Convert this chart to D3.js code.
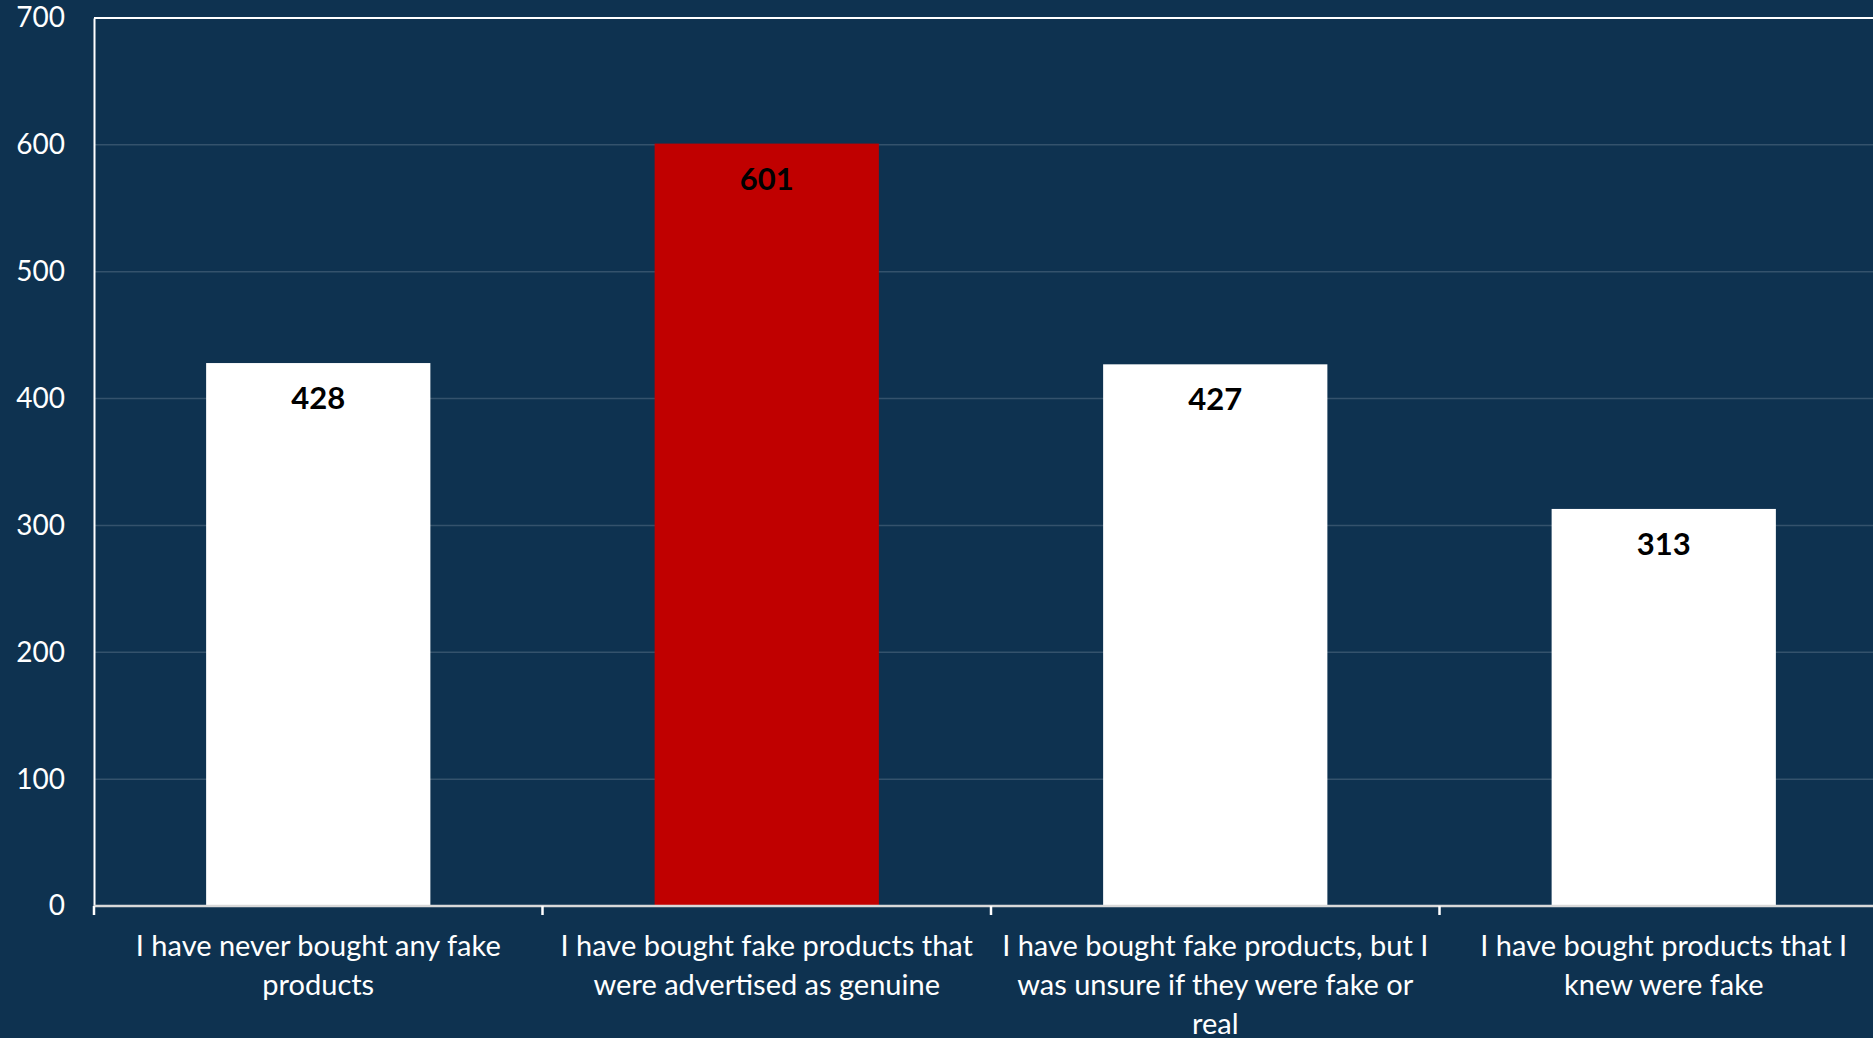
<!DOCTYPE html>
<html>
<head>
<meta charset="utf-8">
<script src="https://d3js.org/d3.v7.min.js"></script>
<style>
    html, body { margin: 0; padding: 0; background: #0e3250; overflow: hidden; }
    svg { display: block; }
</style>
</head>
<body>
<svg width="1873" height="1038"></svg>
<script>
    // data
    var categories = [
        ["I have never bought any fake", "products"],
        ["I have bought fake products that", "were advertised as genuine"],
        ["I have bought fake products, but I", "was unsure if they were fake or", "real"],
        ["I have bought products that I", "knew were fake"]
    ];
    var values = [428, 601, 427, 313];
    var barColors = ["#ffffff", "#c00000", "#ffffff", "#ffffff"];
    var yTicks = [0, 100, 200, 300, 400, 500, 600, 700];

    var FONT = "Lato, 'Open Sans', sans-serif";
    var margin = {top: 18, left: 94, bottom: 132};
    var width = 1794, height = 1038 - margin.top - margin.bottom;

    var svg = d3.select("svg");
    var g = svg.append("g").attr("transform", "translate(" + margin.left + "," + margin.top + ")");

    var x = d3.scaleBand()
        .domain(d3.range(values.length))
        .range([0, width])
        .paddingInner(0.5)
        .paddingOuter(0.25);

    var y = d3.scaleLinear().domain([0, 700]).range([height, 0]);

    // gridlines
    g.append("g")
        .selectAll("line")
        .data(yTicks.slice(1, -1))
        .enter().append("line")
        .attr("x1", 0).attr("x2", width)
        .attr("y1", function(d) { return y(d); })
        .attr("y2", function(d) { return y(d); })
        .style("stroke", "#ffffff")
        .style("stroke-opacity", 0.16)
        .style("stroke-width", 1.5);

    // bars
    g.append("g")
        .selectAll("rect")
        .data(values)
        .enter().append("rect")
        .attr("x", function(d, i) { return x(i); })
        .attr("y", function(d) { return y(d); })
        .attr("width", x.bandwidth())
        .attr("height", function(d) { return height - y(d); })
        .style("fill", function(d, i) { return barColors[i]; });

    // value labels
    g.append("g")
        .selectAll("text")
        .data(values)
        .enter().append("text")
        .attr("x", function(d, i) { return x(i) + x.bandwidth() / 2; })
        .attr("y", function(d) { return y(d) + 46; })
        .attr("text-anchor", "middle")
        .style("font-family", FONT)
        .style("font-weight", "bold")
        .style("font-size", "31px")
        .style("fill", "#000")
        .text(function(d) { return d; });

    // top border
    g.append("line")
        .attr("x1", 0).attr("x2", width)
        .attr("y1", 0).attr("y2", 0)
        .style("stroke", "#ffffff")
        .style("stroke-width", 2);

    // y axis
    var yAxis = g.append("g")
        .call(d3.axisLeft(y).tickValues(yTicks).tickSize(0).tickPadding(29));
    yAxis.select(".domain").style("stroke", "#ffffff").style("stroke-width", 2);
    yAxis.selectAll("text")
        .style("font-family", FONT)
        .style("font-size", "28px")
        .style("fill", "#ffffff");

    // x axis: line and boundary ticks
    var step = x.step();
    var bounds = d3.range(values.length + 1).map(function(i) { return i * step; });
    g.append("line")
        .attr("x1", 0).attr("x2", width)
        .attr("y1", height).attr("y2", height)
        .style("stroke", "#d9d9d9")
        .style("stroke-width", 2.5);
    g.append("g")
        .selectAll("line")
        .data(bounds)
        .enter().append("line")
        .attr("x1", function(d) { return d; })
        .attr("x2", function(d) { return d; })
        .attr("y1", height).attr("y2", height + 9)
        .style("stroke", "#ffffff")
        .style("stroke-width", 2.5);

    // category labels
    var lab = g.append("g")
        .selectAll("text")
        .data(categories)
        .enter().append("text")
        .attr("text-anchor", "middle")
        .style("font-family", FONT)
        .style("font-size", "29px")
        .style("fill", "#ffffff")
        .attr("transform", function(d, i) {
            return "translate(" + (x(i) + x.bandwidth() / 2) + "," + (height + 50) + ")";
        });
    lab.selectAll("tspan")
        .data(function(d) { return d; })
        .enter().append("tspan")
        .attr("x", 0)
        .attr("y", function(d, i) { return i * 39; })
        .text(function(d) { return d; });
</script>
</body>
</html>
